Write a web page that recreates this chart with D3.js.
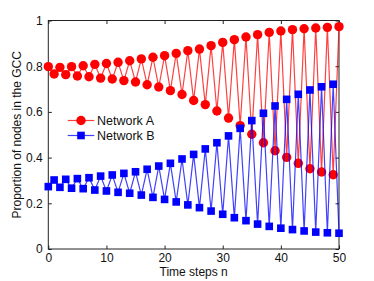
<!DOCTYPE html>
<html>
<head>
<meta charset="utf-8">
<script src="https://cdn.jsdelivr.net/npm/d3@7"></script>
<style>
  body { margin: 0; background: #fff; }
  svg { display: block; font-family: "Liberation Sans", Arial, sans-serif; }
</style>
</head>
<body>
<div id="chart"></div>
<script>
const w = 374;
const h = 281;
const margin = { top: 20.5, right: 35, bottom: 32, left: 48.3 };

const steps = d3.range(0, 51);
const networkA = [
  0.798, 0.766, 0.795, 0.763, 0.798, 0.757, 0.802, 0.754, 0.808, 0.748,
  0.812, 0.744, 0.817, 0.737, 0.824, 0.731, 0.832, 0.719, 0.839, 0.709,
  0.846, 0.693, 0.856, 0.676, 0.868, 0.650, 0.875, 0.632, 0.890, 0.604,
  0.904, 0.573, 0.916, 0.540, 0.928, 0.502, 0.938, 0.465, 0.948, 0.430,
  0.954, 0.401, 0.960, 0.375, 0.964, 0.351, 0.967, 0.337, 0.970, 0.325,
  0.973
];
const networkB = [
  0.273, 0.302, 0.270, 0.305, 0.266, 0.308, 0.264, 0.312, 0.258, 0.319,
  0.254, 0.324, 0.248, 0.331, 0.244, 0.338, 0.236, 0.349, 0.226, 0.363,
  0.217, 0.375, 0.206, 0.394, 0.193, 0.414, 0.181, 0.438, 0.166, 0.465,
  0.152, 0.495, 0.137, 0.528, 0.124, 0.562, 0.109, 0.594, 0.099, 0.626,
  0.091, 0.655, 0.085, 0.677, 0.079, 0.696, 0.074, 0.710, 0.071, 0.721,
  0.069
];
const xTicks = [0, 10, 20, 30, 40, 50];
const yTicks = [0, 0.2, 0.4, 0.6, 0.8, 1];
const seriesNames = ["Network A", "Network B"];

const svg = d3.select("#chart")
  .append("svg")
  .attr("width", w)
  .attr("height", h);

const x = d3.scaleLinear().domain([0, 50]).range([margin.left, w - margin.right]);
const y = d3.scaleLinear().domain([0, 1]).range([h - margin.bottom, margin.top]);

const axisColor = "#222";

// box
svg.append("rect")
  .attr("x", x(0)).attr("y", y(1))
  .attr("width", x(50) - x(0)).attr("height", y(0) - y(1))
  .attr("fill", "none").attr("stroke", axisColor).attr("stroke-width", 1);

const fmtY = d => d === 0 || d === 1 ? String(d) : d3.format(".1f")(d);

svg.append("g")
  .attr("transform", `translate(0,${y(0)})`)
  .call(d3.axisBottom(x).tickValues(xTicks).tickSize(-3.5).tickPadding(4).tickFormat(d3.format("d")))
  .call(g => g.select(".domain").remove());
svg.append("g")
  .attr("transform", `translate(0,${y(1)})`)
  .call(d3.axisTop(x).tickValues(xTicks).tickSize(-3.5).tickFormat(""))
  .call(g => g.select(".domain").remove());
svg.append("g")
  .attr("transform", `translate(${x(0)},0)`)
  .call(d3.axisLeft(y).tickValues(yTicks).tickSize(-3.5).tickPadding(5.5).tickFormat(fmtY))
  .call(g => g.select(".domain").remove());
svg.append("g")
  .attr("transform", `translate(${x(50)},0)`)
  .call(d3.axisRight(y).tickValues(yTicks).tickSize(-3.5).tickFormat(""))
  .call(g => g.select(".domain").remove());

svg.selectAll(".tick line").attr("stroke", axisColor);
svg.selectAll(".tick text").attr("fill", "#111").style("font-size", "12px");

// axis titles
svg.append("text")
  .attr("x", (x(0) + x(50)) / 2)
  .attr("y", 276)
  .attr("text-anchor", "middle")
  .style("font-size", "12px")
  .attr("fill", "#111")
  .text("Time steps n");

svg.append("text")
  .attr("transform", `translate(21,${(y(0) + y(1)) / 2}) rotate(-90)`)
  .attr("text-anchor", "middle")
  .style("font-size", "12px")
  .attr("fill", "#111")
  .text("Proportion of nodes in the GCC");

const line = d3.line().x((d, i) => x(steps[i])).y(d => y(d));

// Network A
svg.append("path")
  .datum(networkA)
  .attr("d", line)
  .attr("fill", "none")
  .attr("stroke", "#ff0000")
  .attr("stroke-opacity", 0.75)
  .attr("stroke-width", 1.2);
svg.selectAll(".ptA")
  .data(networkA)
  .enter()
  .append("circle")
  .attr("class", "ptA")
  .attr("cx", (d, i) => x(steps[i]))
  .attr("cy", d => y(d))
  .attr("r", 4.7)
  .attr("fill", "#ff0000");

// Network B
svg.append("path")
  .datum(networkB)
  .attr("d", line)
  .attr("fill", "none")
  .attr("stroke", "#0000ff")
  .attr("stroke-opacity", 0.75)
  .attr("stroke-width", 1.2);
const sq = 7.6;
svg.selectAll(".ptB")
  .data(networkB)
  .enter()
  .append("rect")
  .attr("class", "ptB")
  .attr("x", (d, i) => x(steps[i]) - sq / 2)
  .attr("y", d => y(d) - sq / 2)
  .attr("width", sq)
  .attr("height", sq)
  .attr("fill", "#0000ff");

// legend
const legend = svg.append("g");
seriesNames.forEach((name, i) => {
  const ly = 120.5 + i * 15;
  const col = i === 0 ? "#ff0000" : "#0000ff";
  legend.append("line")
    .attr("x1", 67.7).attr("x2", 94.3)
    .attr("y1", ly).attr("y2", ly)
    .attr("stroke", col).attr("stroke-opacity", 0.75).attr("stroke-width", 1.2);
  if (i === 0) {
    legend.append("circle").attr("cx", 81).attr("cy", ly).attr("r", 4.7).attr("fill", col);
  } else {
    legend.append("rect").attr("x", 81 - sq / 2).attr("y", ly - sq / 2)
      .attr("width", sq).attr("height", sq).attr("fill", col);
  }
  legend.append("text")
    .attr("x", 97)
    .attr("y", ly + 4.3)
    .style("font-size", "12.5px")
    .attr("fill", "#111")
    .text(name);
});
</script>
</body>
</html>
